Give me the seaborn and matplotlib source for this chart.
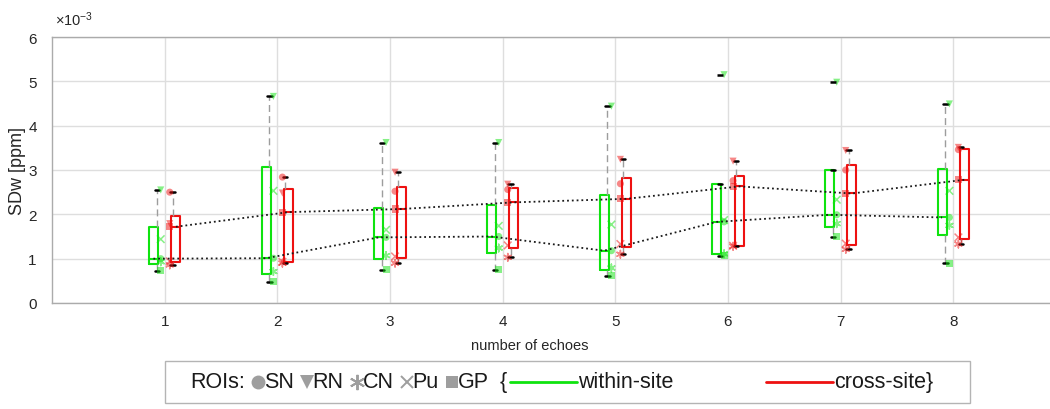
import numpy as np
import pandas as pd
import matplotlib
matplotlib.use("Agg")
import matplotlib.pyplot as plt
import seaborn as sns
from matplotlib.lines import Line2D
from matplotlib.patches import Rectangle

# ---------------- data (SDw in units of 1e-3 ppm) ----------------
echoes = [1, 2, 3, 4, 5, 6, 7, 8]
rois = ["SN", "RN", "CN", "Pu", "GP"]
sites = ["within-site", "cross-site"]

within_SN = [1.00, 1.01, 1.48, 1.50, 1.18, 1.83, 1.99, 1.93]
within_RN = [2.55, 4.66, 3.62, 3.62, 4.44, 5.15, 4.98, 4.49]
within_CN = [0.93, 0.71, 1.07, 1.24, 0.79, 1.11, 1.79, 1.75]
within_Pu = [1.44, 2.53, 1.65, 1.74, 1.77, 1.87, 2.33, 2.53]
within_GP = [0.73, 0.48, 0.75, 0.75, 0.62, 1.07, 1.50, 0.90]

cross_SN = [2.50, 2.84, 2.52, 2.56, 2.69, 2.76, 3.00, 3.46]
cross_RN = [1.79, 2.48, 2.95, 2.68, 3.24, 3.20, 3.44, 3.51]
cross_CN = [0.86, 0.90, 0.90, 1.03, 1.10, 1.28, 1.21, 1.33]
cross_Pu = [0.94, 0.93, 1.05, 1.30, 1.33, 1.29, 1.34, 1.48]
cross_GP = [1.72, 2.05, 2.12, 2.27, 2.35, 2.63, 2.47, 2.78]

yticks = [0, 1, 2, 3, 4, 5, 6]

values = {
    "within-site": {"SN": within_SN, "RN": within_RN, "CN": within_CN,
                    "Pu": within_Pu, "GP": within_GP},
    "cross-site": {"SN": cross_SN, "RN": cross_RN, "CN": cross_CN,
                   "Pu": cross_Pu, "GP": cross_GP},
}

GREEN = "#0fe30f"
RED = "#ee1111"
pal = {"within-site": GREEN, "cross-site": RED}
pt_off = {"within-site": -0.035, "cross-site": 0.045}
box_off = {"within-site": -0.10, "cross-site": 0.10}
wh_off = {"within-site": -0.07, "cross-site": 0.07}
WHIS = 1.5

# long table of ROI points
rows = []
for s in sites:
    for r in rois:
        for e, v in zip(echoes, values[s][r]):
            rows.append(dict(echo=e, site=s, roi=r, val=v, xpos=e + pt_off[s]))
pts = pd.DataFrame(rows)

# MATLAB-style box statistics (hazen quartiles, 1.5 IQR whiskers)
box_rows, med_rows, out_rows = [], [], []
for (s, e), g in pts.groupby(["site", "echo"]):
    v = np.sort(g["val"].to_numpy())
    q1, med, q3 = np.percentile(v, [25, 50, 75], method="hazen")
    iqr = q3 - q1
    inside = v[(v >= q1 - WHIS * iqr) & (v <= q3 + WHIS * iqr)]
    lo = min(inside.min(), q1)
    hi = max(inside.max(), q3)
    for val in [lo, q1, med, q3, hi]:
        box_rows.append(dict(echo=e, site=s, val=val))
    med_rows.append(dict(echo=e, site=s, med=med, x=e + box_off[s]))
    for o in v[(v < q1 - WHIS * iqr) | (v > q3 + WHIS * iqr)]:
        out_rows.append(dict(echo=e, site=s, val=o, x=e + wh_off[s]))
box_df = pd.DataFrame(box_rows)
med_df = pd.DataFrame(med_rows)
out_df = pd.DataFrame(out_rows)

# ---------------- figure ----------------
sns.set_style("white")
plt.rcParams["font.family"] = ["Liberation Sans", "DejaVu Sans"]
plt.rcParams["mathtext.fontset"] = "custom"
plt.rcParams["mathtext.rm"] = "Liberation Sans"
plt.rcParams["mathtext.it"] = "Liberation Sans"
plt.rcParams["axes.unicode_minus"] = False

W, H = 1050, 410
fig = plt.figure(figsize=(W / 100, H / 100), dpi=100)
ax = fig.add_axes([52 / W, 1 - 304 / H, 1014 / W, 266 / H])
ax.set_axisbelow(True)

# boxes + medians
sns.boxplot(data=box_df, x="echo", y="val", hue="site", hue_order=sites,
            palette=pal, native_scale=True, width=0.4, gap=0.6, fill=False,
            whis=(0, 100), showfliers=False, linewidth=1.5,
            whiskerprops={"visible": False}, capprops={"visible": False},
            legend=False, ax=ax)
# whiskers + caps
sns.boxplot(data=box_df, x="echo", y="val", hue="site", hue_order=sites,
            palette=pal, native_scale=True, width=0.28, gap=0.4, fill=False,
            whis=(0, 100), showfliers=False, linewidth=1.0,
            boxprops={"visible": False}, medianprops={"visible": False},
            whiskerprops={"color": "#9d9d9d", "linestyle": (0, (5, 3)),
                          "linewidth": 1.0},
            capprops={"color": "black", "linewidth": 1.8},
            capwidths=0.04, legend=False, ax=ax)

# dotted median connections
for s in sites:
    d = med_df[med_df["site"] == s]
    sns.lineplot(x=d["x"].to_numpy(), y=d["med"].to_numpy(), color="#1a1a1a",
                 linestyle=":", linewidth=1.3, ax=ax, legend=False, zorder=4)

# ROI points
roi_markers = {"SN": "o", "RN": "v", "CN": (6, 2, 0), "Pu": "x", "GP": "s"}
for r, m in roi_markers.items():
    d = pts[pts["roi"] == r]
    filled = matplotlib.markers.MarkerStyle(m).is_filled()
    kw = dict(edgecolor="none") if filled else dict(linewidth=1.1)
    sns.scatterplot(data=d, x="xpos", y="val", hue="site", hue_order=sites,
                    palette=pal, marker=m, s=26 if filled else 30, alpha=0.5,
                    legend=False, ax=ax, zorder=3, **kw)

# outlier dashes
if len(out_df):
    sns.scatterplot(data=out_df, x="x", y="val", color="black", marker="_",
                    s=16, linewidth=1.8, legend=False, ax=ax, zorder=5)

# axes styling
ax.set_xlim(0, 9)
ax.set_ylim(0, 6)
ax.set_xticks(echoes)
ax.set_xticklabels([str(e) for e in echoes])
ax.set_yticks(yticks)
ax.set_yticklabels([str(t) for t in yticks])
ax.grid(True, color="#dedede", linewidth=1.0)
for sp in ["left", "bottom", "top"]:
    ax.spines[sp].set_color("#ababab")
    ax.spines[sp].set_linewidth(1.0)
ax.spines["right"].set_visible(False)
ax.tick_params(axis="both", direction="in", length=4, color="#ababab",
               labelsize=11, labelcolor="#262626")
ax.tick_params(axis="y", pad=11)
ax.tick_params(axis="x", pad=8)
ax.set_xlabel("number of echoes", fontsize=10.5, color="#262626")
ax.set_ylabel("SDw [ppm]", fontsize=13, color="#262626")
ax.xaxis.set_label_coords((530 - 52) / 1014, -0.13)
ax.yaxis.set_label_coords((26 - 52) / 1014, 0.5)
ax.text(0.003, 1.035, r"$\times10^{-3}$", transform=ax.transAxes,
        fontsize=10.5, color="#262626", ha="left", va="bottom")

# ---------------- legend (manual, figure pixels) ----------------
fig.canvas.draw()
renderer = fig.canvas.get_renderer()
yc = 1 - 383 / H
FS = 15.5
TXT = "#1a1a1a"
MCOL = "#9e9e9e"


def put_text(xpx, s):
    t = fig.text(xpx / W, yc, s, fontsize=FS, color=TXT, ha="left", va="center")
    return xpx + t.get_window_extent(renderer).width


def put_marker(xpx, m, ms):
    filled = matplotlib.markers.MarkerStyle(m).is_filled()
    fig.add_artist(Line2D([xpx / W], [yc], transform=fig.transFigure, marker=m,
                          markersize=ms, color=MCOL, linestyle="none",
                          markeredgewidth=0 if filled else 1.4))


def put_line(x0, x1, c):
    fig.add_artist(Line2D([x0 / W, x1 / W], [yc, yc], transform=fig.transFigure,
                          color=c, linewidth=2.0))


fig.add_artist(Rectangle((165 / W, 1 - 404 / H), (970 - 165) / W, (404 - 362) / H,
                         transform=fig.transFigure, fill=False,
                         edgecolor="#b4b4b4", linewidth=1.0))

x = put_text(190, "ROIs:")
leg_sizes = {"SN": 10, "RN": 10, "CN": 11, "Pu": 9, "GP": 9}
for r in rois:
    x += 8
    put_marker(x + 5, roi_markers[r], leg_sizes[r])
    x = put_text(x + 11, r)
x += 11
x = put_text(x, "{")
put_line(x + 3, x + 70, GREEN)
x = put_text(x + 71, "within-site")
put_line(766, 833, RED)
put_text(834, "cross-site}")

fig.savefig("out.png", dpi=100)
